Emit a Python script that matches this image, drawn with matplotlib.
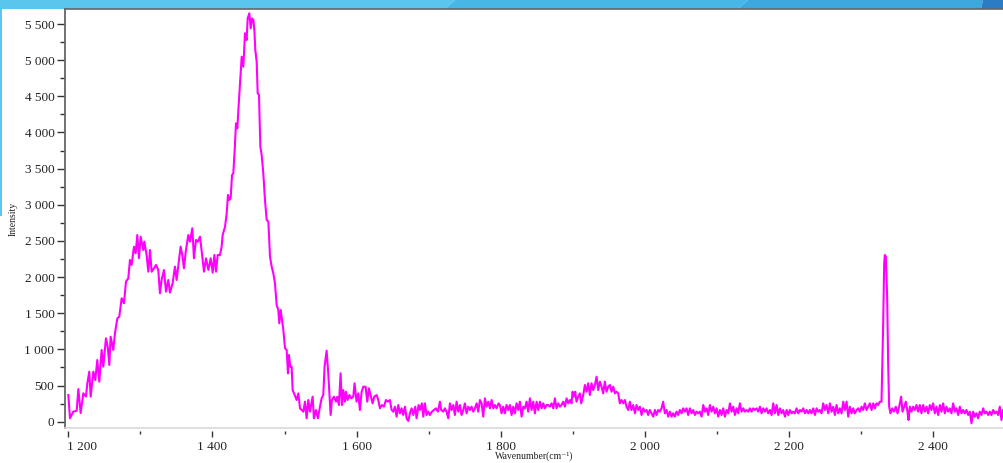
import matplotlib
matplotlib.use("Agg")
import matplotlib.pyplot as plt
from matplotlib.ticker import MultipleLocator
from matplotlib.lines import Line2D
from matplotlib.patches import Polygon
import matplotlib.transforms as mtransforms

plt.rcParams["font.family"] = ["Liberation Serif", "DejaVu Serif"]

wavenumber = [
    1200.0, 1202.3, 1206.9, 1211.6, 1213.9, 1217.1, 1220.8, 1224.5, 1226.4, 1229.1,
    1231.0, 1234.7, 1237.4, 1240.2, 1243.0, 1246.2, 1248.5, 1252.2, 1254.6, 1256.9,
    1258.7, 1262.4, 1264.7, 1268.0, 1270.7, 1274.0, 1277.2, 1280.0, 1283.2, 1285.5,
    1287.8, 1291.1, 1293.4, 1295.7, 1298.0, 1300.3, 1304.0, 1305.4, 1308.6, 1311.0,
    1313.3, 1315.6, 1318.8, 1321.6, 1324.8, 1327.1, 1329.4, 1332.7, 1335.5, 1338.7,
    1341.0, 1344.7, 1347.9, 1350.2, 1353.0, 1355.8, 1358.1, 1360.4, 1363.2, 1366.4,
    1368.7, 1372.0, 1374.3, 1377.1, 1379.8,
    1382.7, 1385.0, 1388.2, 1391.0, 1394.3, 1397.5, 1400.3, 1402.6, 1404.9, 1407.2,
    1410.4, 1412.7, 1414.1, 1417.4, 1419.7, 1421.5, 1423.4, 1425.2, 1427.1, 1428.9,
    1430.8, 1432.6, 1434.5, 1435.9, 1438.2, 1440.5, 1442.8, 1445.1, 1447.4, 1448.8,
    1451.1, 1453.0, 1454.8, 1456.7, 1458.1, 1459.4, 1461.3, 1462.7, 1464.5, 1466.4,
    1468.2, 1470.5, 1472.8, 1475.2, 1477.5, 1479.8, 1482.1, 1484.4, 1486.7, 1489.0,
    1491.3, 1492.7, 1494.6, 1496.4, 1498.3, 1500.6, 1502.9, 1504.7, 1506.1, 1508.0,
    1509.8, 1511.2, 1514.0, 1516.8, 1519.1, 1521.4, 1523.7, 1526.0, 1528.3, 1530.6,
    1532.9,
    1535.2, 1538.9, 1540.7, 1543.5, 1546.3, 1549.1, 1551.4, 1553.7, 1555.5, 1558.3,
    1560.6, 1563.9, 1565.7, 1568.5, 1571.3, 1573.1, 1575.4, 1577.7, 1579.6, 1581.4,
    1583.7, 1585.1, 1587.4, 1589.8, 1592.5, 1595.3, 1597.1, 1599.9, 1602.2, 1604.5,
    1606.9, 1609.2, 1612.4, 1614.7, 1617.0, 1619.3, 1622.1, 1624.4, 1627.7, 1630.0,
    1632.3, 1635.1, 1637.8, 1640.6, 1643.4, 1646.1, 1648.5, 1650.8, 1653.1, 1655.4,
    1657.7, 1660.0, 1662.3, 1664.6, 1667.0, 1669.3, 1671.6, 1673.9, 1676.2, 1678.5,
    1681.3, 1683.1, 1685.9, 1687.8, 1690.5, 1692.4, 1694.7, 1697.0, 1699.3, 1701.6,
    1704.4, 1707.2, 1709.9, 1712.7, 1715.5, 1717.3, 1720.1, 1722.4, 1724.7, 1727.1,
    1729.4, 1731.7, 1734.0, 1736.3, 1738.6, 1740.9, 1743.2, 1745.5, 1747.9, 1750.2,
    1752.5, 1754.8, 1757.1, 1759.4, 1761.7, 1764.0, 1766.4, 1768.7, 1771.0, 1773.3,
    1775.6, 1777.9, 1780.2, 1782.5, 1784.9, 1787.2, 1789.5, 1791.8, 1794.1, 1796.9,
    1798.7, 1801.0, 1803.3, 1805.6, 1807.9, 1810.3, 1812.6, 1814.9, 1817.2, 1819.5,
    1821.8, 1824.1, 1826.4, 1828.8, 1831.1, 1833.4, 1835.7, 1838.0, 1840.3, 1842.6,
    1845.0, 1847.2, 1849.6, 1851.9, 1854.2, 1856.5, 1858.8, 1861.1, 1863.4, 1865.7,
    1868.0, 1870.4, 1872.7, 1875.0, 1877.3, 1879.6, 1881.9, 1884.2, 1886.5, 1888.9,
    1891.2, 1893.5, 1895.8, 1898.1, 1899.5, 1901.3, 1903.2, 1905.0, 1907.3, 1909.6,
    1911.5, 1914.3, 1916.6, 1918.9, 1921.2, 1923.5, 1925.8, 1928.1, 1930.5, 1932.8,
    1935.1, 1937.4, 1939.7, 1942.0, 1944.3, 1946.6, 1949.0, 1951.3, 1953.6, 1955.9,
    1958.2, 1960.5, 1962.8, 1965.1, 1967.4, 1969.8, 1972.1, 1974.4, 1976.7, 1979.0,
    1981.3, 1983.6, 1986.0, 1988.2, 1990.6, 1992.9, 1995.2, 1997.5, 1999.8, 2002.1,
    2004.4, 2006.7, 2009.0, 2011.4, 2013.7, 2016.0, 2018.3, 2020.6, 2022.9, 2025.2,
    2027.5, 2029.9, 2032.2, 2034.5, 2036.8, 2039.1, 2041.4, 2043.7, 2046.0, 2048.3,
    2050.7, 2053.0, 2055.3, 2057.6, 2059.9,
    2062.3, 2064.6, 2066.9, 2069.2, 2071.5, 2073.9, 2076.2, 2078.5, 2080.8, 2083.1,
    2085.4, 2087.7, 2090.0, 2092.4, 2094.7, 2097.0, 2099.3, 2101.6, 2103.9, 2106.2,
    2108.5, 2110.8, 2113.2, 2115.5, 2117.8, 2120.1, 2122.4, 2124.7, 2127.0, 2129.3,
    2131.6, 2134.0, 2136.3, 2138.6, 2140.9, 2143.2, 2145.5, 2147.8, 2150.1, 2152.4,
    2154.8, 2157.1, 2159.4, 2161.7, 2164.0, 2166.3, 2168.6, 2170.9, 2173.3, 2175.6,
    2177.9, 2180.2, 2182.5, 2184.8, 2187.1, 2189.4, 2191.7, 2194.1, 2196.4, 2198.7,
    2201.0, 2203.3, 2205.6, 2207.9, 2210.2, 2212.6, 2214.9, 2217.2, 2219.5, 2221.8,
    2224.1, 2226.4, 2228.7, 2231.0, 2233.4, 2235.7, 2238.0, 2240.3, 2242.6, 2244.9,
    2247.2, 2249.5, 2251.8, 2254.2, 2256.5, 2258.8, 2261.1, 2263.4, 2265.7, 2268.0,
    2270.3, 2272.7, 2275.0, 2277.3, 2279.6, 2281.9, 2284.2, 2286.5, 2288.8, 2291.1,
    2293.5, 2295.8, 2298.1, 2300.4, 2302.7, 2305.0, 2307.3, 2309.6, 2311.9, 2314.3,
    2316.6, 2318.9, 2321.2, 2323.5, 2325.8,
    2328.1, 2330.4, 2331.8, 2332.7, 2334.1, 2335.9, 2337.3, 2338.7, 2340.5, 2342.9,
    2345.2, 2347.9, 2350.3, 2352.6, 2355.3, 2357.2, 2359.5, 2361.8, 2364.1, 2365.5,
    2367.4, 2369.7, 2372.0, 2374.3, 2376.6, 2378.9, 2381.2, 2383.5, 2385.9, 2388.2,
    2390.5, 2392.8, 2395.1, 2397.4, 2399.7, 2402.0, 2404.3, 2406.7, 2409.0, 2411.3,
    2413.6, 2415.9, 2418.2, 2420.5, 2422.8, 2425.1, 2427.5, 2429.8, 2432.1, 2434.4,
    2436.7, 2439.0, 2441.3, 2443.6, 2446.0, 2448.3, 2450.6, 2452.9, 2455.2, 2457.5,
    2459.8, 2462.1, 2464.4, 2466.8, 2469.1, 2471.4, 2473.7, 2476.0, 2478.3, 2480.6,
    2482.9, 2485.3, 2487.6, 2489.9, 2492.2, 2494.5, 2496.8,
]

intensity = [
    369, 47, 140, 150, 452, 120, 393, 347, 531, 692,
    347, 692, 576, 853, 553, 992, 761, 1153, 1038, 784,
    1176, 992, 1223, 1430, 1453, 1707, 1638, 1937, 1983, 2237,
    2168, 2421, 2329, 2582, 2260, 2559, 2375, 2490, 2306, 2075,
    2375, 2075, 2122, 2168, 2098, 1776, 1960, 2098, 1799, 1960,
    1785, 1914, 2145, 1960, 2191, 2421, 2306, 2122, 2375, 2582,
    2490, 2675, 2260, 2513, 2490,
    2559, 2352, 2075, 2260, 2098, 2260, 2061, 2306, 2075, 2306,
    2306, 2421, 2582, 2697, 2882, 3136, 3067, 3090, 3412, 3435,
    3758, 4127, 4058, 4311, 4680, 5048, 4910, 5372, 5279, 5579,
    5649, 5441, 5579, 5556, 5418, 5141, 4979, 4542, 4519, 3804,
    3689, 3436, 3067, 2790, 2767, 2282, 2144, 2052, 1914, 1614,
    1545, 1361, 1545, 1407, 1268, 1015, 992, 669, 922, 761,
    761, 438, 369, 300, 392, 185, 162, 138, 277, 47,
    300,
    139, 346, 47, 162, 47, 208, 323, 369, 761, 982,
    669, 93, 300, 346, 277, 346, 231, 669, 231, 438,
    277, 415, 300, 369, 323, 346, 531, 277, 392, 162,
    415, 484, 484, 277, 462, 369, 254, 346, 369, 300,
    185, 231, 208, 300, 277, 300, 162, 139, 208, 70,
    231, 116, 185, 93, 208, 47, 10, 116, 185, 93,
    208, 47, 231, 162, 254, 70, 254, 93, 139, 93,
    139, 162, 185, 139, 277, 162, 139, 185, 139, 47,
    254, 162, 231, 93, 277, 139, 231, 93, 162, 254,
    116, 208, 162, 208, 139, 185, 254, 139, 300, 254,
    70, 323, 208, 277, 185, 300, 185, 231, 185, 254,
    231, 116, 208, 116, 231, 162, 231, 93, 208, 116,
    254, 162, 277, 70, 208, 185, 277, 139, 323, 162,
    277, 116, 277, 162, 277, 185, 254, 185, 231, 231,
    208, 254, 185, 323, 185, 254, 208, 231, 277, 208,
    323, 254, 300, 254, 415, 346, 415, 277, 346, 392,
    254, 369, 508, 415, 531, 369, 531, 438, 508, 623,
    438, 554, 485, 392, 554, 415, 485, 508, 415, 485,
    392, 415, 392, 254, 300, 254, 300, 208, 162, 277,
    162, 231, 116, 231, 162, 208, 93, 185, 139, 162,
    93, 162, 116, 70, 162, 93, 162, 139, 185, 277,
    116, 162, 70, 139, 70, 116, 70, 139, 93, 162,
    116, 185, 139, 185, 93,
    185, 116, 162, 93, 139, 116, 139, 70, 231, 139,
    185, 93, 231, 139, 208, 116, 185, 70, 162, 93,
    185, 70, 162, 116, 254, 139, 208, 93, 185, 116,
    254, 139, 185, 139, 162, 139, 185, 139, 185, 162,
    185, 139, 208, 116, 185, 139, 185, 116, 162, 93,
    254, 116, 231, 93, 185, 116, 162, 70, 162, 93,
    162, 116, 139, 116, 185, 116, 162, 139, 185, 116,
    162, 116, 162, 116, 185, 93, 185, 139, 162, 116,
    254, 162, 231, 116, 254, 139, 208, 93, 231, 116,
    185, 116, 277, 162, 277, 70, 208, 116, 185, 116,
    162, 185, 139, 208, 162, 254, 162, 208, 254, 162,
    254, 185, 254, 231, 277,
    277, 1361, 2190, 2306, 2283, 1730, 807, 208, 116, 185,
    139, 208, 116, 208, 346, 139, 208, 277, 139, 24,
    208, 139, 208, 162, 231, 139, 231, 116, 231, 139,
    208, 116, 231, 162, 254, 116, 208, 93, 231, 139,
    254, 116, 208, 139, 185, 116, 254, 139, 185, 93,
    208, 116, 162, 116, 162, 93, 139, -23, 139, 70,
    116, 47, 139, 93, 185, 116, 139, 93, 139, 93,
    162, 116, 139, 93, 208, 24, 162,
]

x_major_ticks = [1200, 1400, 1600, 1800, 2000, 2200, 2400]
y_major_ticks = [0, 500, 1000, 1500, 2000, 2500, 3000, 3500, 4000, 4500, 5000, 5500]
x_label = "Wavenumber(cm\u207b\u00b9)"
y_label = "Intensity"


def thousands(v):
    return f"{int(round(v)):,}".replace(",", " ")


W, H = 1004, 463
fig = plt.figure(figsize=(W / 100, H / 100), dpi=100)
fig.patch.set_facecolor("white")


def px(xp, yp):
    return (xp / W, 1 - yp / H)


# screenshot window frame decoration
banner = [
    ([px(0, 0), px(455, 0), px(445, 9), px(0, 9)], "#5ac6ee"),
    ([px(445, 9), px(455, 0), px(748, 0), px(738, 9)], "#46b7e7"),
    ([px(738, 9), px(748, 0), px(983, 0), px(981, 9)], "#3ca8de"),
    ([px(981, 9), px(983, 0), px(1004, 0), px(1004, 9)], "#2b7cc2"),
    ([px(0, 9), px(2, 9), px(2, 216), px(0, 216)], "#5ac6ee"),
]
for pts, col in banner:
    fig.add_artist(Polygon(pts, closed=True, transform=fig.transFigure,
                           facecolor=col, edgecolor="none", zorder=0))

ax = fig.add_axes([65 / W, 35 / H, (W - 65) / W, (428 - 9) / H])
ax.set_facecolor("white")

# spines first (set_position resets tick objects)
ax.spines["bottom"].set_position(("outward", 2.2))
ax.spines["bottom"].set_color("none")
ax.spines["right"].set_visible(False)
ax.spines["left"].set_color("#666666")
ax.spines["left"].set_linewidth(1.3)
ax.spines["top"].set_color("#666666")
ax.spines["top"].set_linewidth(1.2)

ax.plot(wavenumber, intensity, color="#ff00ff", lw=1.5, solid_joinstyle="round")

ax.set_xlim(1195.4, 2498)
ax.set_ylim(-87, 5708)

tick_color = "#333333"

ax.set_xticks(x_major_ticks, labels=[thousands(v) for v in x_major_ticks])
ax.xaxis.set_minor_locator(MultipleLocator(100))
ax.set_yticks(y_major_ticks, labels=[thousands(v) for v in y_major_ticks])
ax.yaxis.set_minor_locator(MultipleLocator(250))

ax.tick_params(axis="x", which="major", direction="out", length=4, width=1,
               color=tick_color, pad=2.8, top=False, labelsize=9.5,
               labelcolor="#222222")
ax.tick_params(axis="x", which="minor", direction="out", length=2, width=1,
               color=tick_color, top=False)
ax.tick_params(axis="y", which="major", direction="out", length=5.8, width=1,
               color=tick_color, pad=1.8, right=False, labelsize=9.5,
               labelcolor="#222222")
ax.tick_params(axis="y", which="minor", direction="out", length=3.6, width=1,
               color=tick_color, right=False)

first_tick = ax.xaxis.get_major_ticks()[0]
first_tick.label1.set_horizontalalignment("left")
first_tick.label1.set_transform(
    first_tick.label1.get_transform() +
    mtransforms.ScaledTranslation(-1.5 / 100, 0, fig.dpi_scale_trans))

ax.add_line(Line2D([0, 1], [0, 0], transform=ax.transAxes, color="#d8d8d8",
                   lw=1.2, clip_on=False, zorder=5))

ax.set_xlabel(x_label, fontsize=7, color="#222222", labelpad=-0.5)
ax.set_ylabel(y_label, fontsize=7, color="#222222", labelpad=5)

fig.savefig("out.png", dpi=100)
